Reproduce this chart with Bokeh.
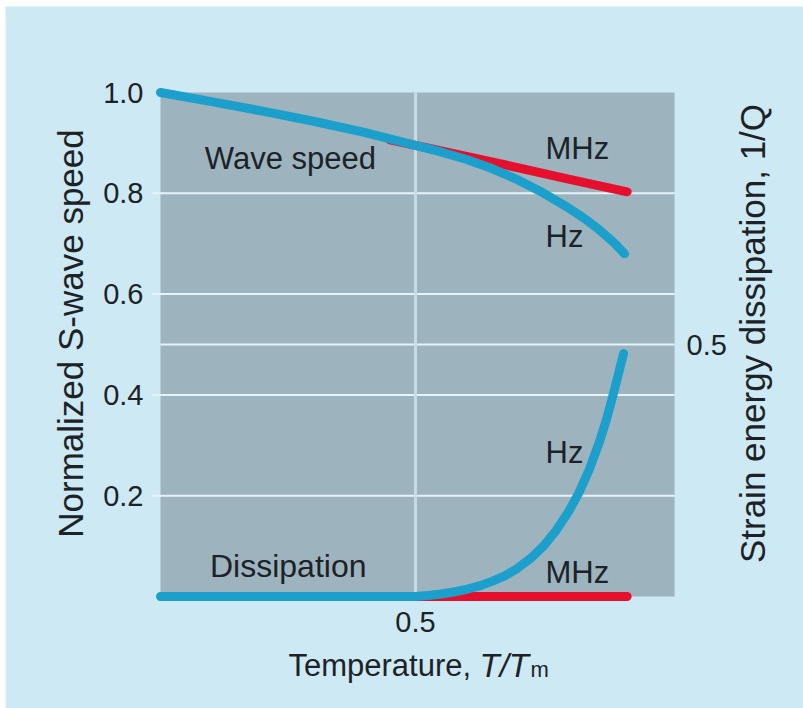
import math
from bokeh.plotting import figure
from bokeh.models import Range1d, LinearAxis, FixedTicker, Label, PrintfTickFormatter
from bokeh.embed import file_html
from bokeh.resources import INLINE

# ---- data ----
# Normalized S-wave speed vs T/Tm
t_speed_hz = [0.0, 0.1, 0.2, 0.3, 0.4, 0.5, 0.55, 0.6, 0.65, 0.7, 0.75, 0.8, 0.83, 0.86, 0.89, 0.91]
v_speed_hz = [1.0, 0.982, 0.963, 0.943, 0.921, 0.895, 0.882, 0.867, 0.849, 0.827, 0.801, 0.771,
              0.751, 0.728, 0.701, 0.680]
t_speed_mhz = [0.45, 0.5, 0.6, 0.7, 0.8, 0.915]
v_speed_mhz = [0.906, 0.895, 0.873, 0.851, 0.828, 0.803]
# Strain energy dissipation 1/Q vs T/Tm
t_diss_hz = [0.0, 0.5, 0.525, 0.55, 0.575, 0.6, 0.625, 0.65, 0.675, 0.7, 0.725, 0.75, 0.775,
             0.8, 0.82, 0.84, 0.86, 0.875, 0.89, 0.9, 0.908]
q_diss_hz = [0.0, 0.0, 0.002, 0.005, 0.009, 0.014, 0.021, 0.03, 0.041, 0.056, 0.075, 0.099, 0.13,
             0.168, 0.205, 0.25, 0.305, 0.353, 0.41, 0.45, 0.482]
t_diss_mhz = [0.5, 0.6, 0.7, 0.8, 0.915]
q_diss_mhz = [0.0, 0.0, 0.0, 0.0, 0.0]

left_ticks = [0.2, 0.4, 0.6, 0.8, 1.0]
grid_y = [0.2, 0.4, 0.6, 0.8]
right_ticks = [0.5]
x_ticks = [0.5]

BG = "#cde9f3"
PANEL = "#9db4bf"
GRID = "#e6f3f8"
VGRID = "#c6dce4"
BLUE = "#1ca0cb"
RED = "#e5102d"
TXT = "#1d2226"
FONT = "Liberation Sans"

# page geometry (pixels): data x 0..1 -> 160..670, data y 0..1 -> 596..92
XS = 510.0
YS = 504.0
ML, MT = 5, 6            # white page margin at left / top
W, H = 803, 708
def xpix(px):
    return (px - 160) / XS
def ypix(py):
    return (596 - py) / YS

# the frame covers the whole canvas; axes are pinned with fixed_location
p = figure(frame_width=W - ML, frame_height=H - MT,
           x_range=Range1d(xpix(ML), xpix(W)),
           y_range=Range1d(ypix(H), ypix(MT)),
           output_backend="svg", toolbar_location=None,
           min_border=0, min_border_left=0, min_border_right=0,
           min_border_top=0, min_border_bottom=0,
           margin=(MT, 0, 0, ML))
p.background_fill_color = BG
p.border_fill_color = BG
p.outline_line_color = None
p.xgrid.visible = False
p.ygrid.visible = False

def style_axis(ax, size="29px"):
    ax.major_tick_in = 0
    ax.major_tick_out = 0
    ax.minor_tick_in = 0
    ax.minor_tick_out = 0
    ax.axis_line_color = None
    ax.major_label_text_font = FONT
    ax.major_label_text_font_size = size
    ax.major_label_text_color = TXT
    ax.formatter = PrintfTickFormatter(format="%.1f")

ya = p.yaxis[0]
ya.ticker = FixedTicker(ticks=left_ticks)
style_axis(ya)
ya.major_label_standoff = 7
ya.fixed_location = xpix(150)

xa = p.xaxis[0]
xa.ticker = FixedTicker(ticks=x_ticks)
style_axis(xa)
xa.major_label_standoff = 0
xa.fixed_location = ypix(611)

ra = LinearAxis(ticker=FixedTicker(ticks=right_ticks))
style_axis(ra)
ra.major_label_standoff = 6
ra.fixed_location = xpix(680)
p.add_layout(ra, "right")

# plot panel
p.quad(left=0, right=1.008, bottom=0, top=1.0, fill_color=PANEL, line_color=None)

# grid lines (with the short outward tick on the left)
p.segment(x0=[-8 / XS] * len(grid_y), y0=grid_y, x1=[1.008] * len(grid_y), y1=grid_y,
          line_color=GRID, line_width=2)
p.segment(x0=[0] * len(right_ticks), y0=right_ticks, x1=[1.008] * len(right_ticks), y1=right_ticks,
          line_color=GRID, line_width=2)
p.segment(x0=x_ticks, y0=[0] * len(x_ticks), x1=x_ticks, y1=[1.0] * len(x_ticks),
          line_color=VGRID, line_width=3)

# curves
p.line(t_speed_mhz, v_speed_mhz, line_color=RED, line_width=9, line_cap="round")
p.line(t_diss_mhz, q_diss_mhz, line_color=RED, line_width=9, line_cap="round")
p.line(t_speed_hz, v_speed_hz, line_color=BLUE, line_width=9, line_cap="round", line_join="round")
p.line(t_diss_hz, q_diss_hz, line_color=BLUE, line_width=9, line_cap="round", line_join="round")

def lab(x, y, text, size="31px", style="normal", baseline="middle", align="left", angle=0.0):
    p.add_layout(Label(x=x, y=y, text=text, text_font=FONT, text_font_size=size,
                       text_font_style=style, text_color=TXT, text_align=align,
                       text_baseline=baseline, angle=angle))

lab(0.087, 0.869, "Wave speed")
lab(0.755, 0.889, "MHz")
lab(0.755, 0.714, "Hz")
lab(0.755, 0.286, "Hz")
lab(0.097, 0.061, "Dissipation", size="32px")
lab(0.755, 0.048, "MHz")

# axis titles
lab(xpix(70), ypix(333), "Normalized S-wave speed", size="35px", align="center",
    angle=math.pi / 2)
lab(xpix(752), ypix(333), "Strain energy dissipation, 1/Q", size="35px", align="center",
    angle=math.pi / 2)
lab(xpix(288), ypix(665), "Temperature,", size="31px", baseline="alphabetic")
lab(xpix(479), ypix(665), "T/T", size="33px", style="italic", baseline="alphabetic")
lab(xpix(530), ypix(669), "m", size="22px", baseline="alphabetic")

open("out.html", "w").write(file_html(p, INLINE))
